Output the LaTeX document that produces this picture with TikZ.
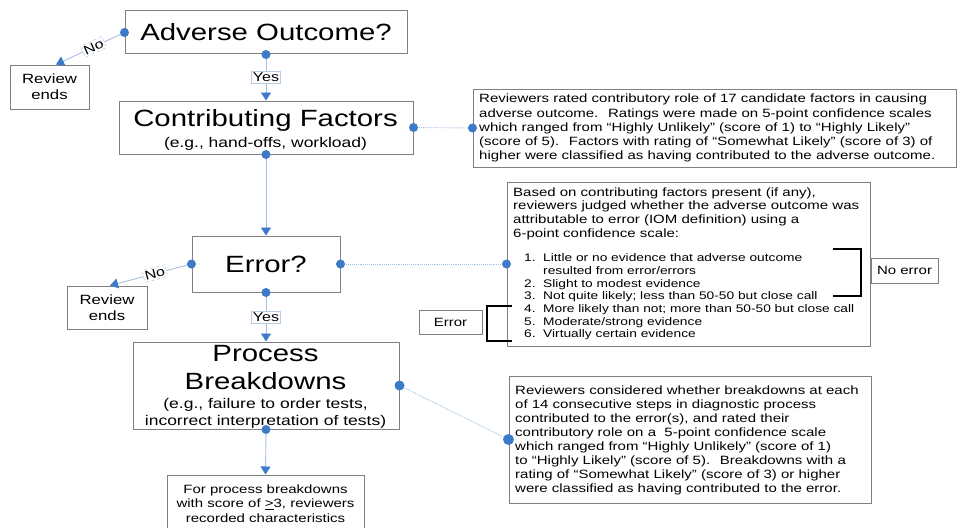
\documentclass[tikz,border=0pt]{standalone}
\usepackage{fontspec}
\setmainfont{Liberation Sans}[FakeStretch=1.25]
\usetikzlibrary{arrows.meta}
\definecolor{linkblue}{HTML}{A6C0E3}
\definecolor{dotblue}{HTML}{3D7AC8}
\definecolor{boxgray}{HTML}{808080}
\definecolor{tagline}{HTML}{B8CCE6}
\newcommand\fsz[2]{\fontsize{#1}{#2}\selectfont}

\begin{document}
\begin{tikzpicture}[x=1pt,y=-1pt,
  box/.style={draw=boxgray, line width=1pt, fill=white, inner sep=0pt},
  title/.style={anchor=base, inner sep=0pt, font=\fsz{23.5}{28}},
  sub/.style={anchor=base, inner sep=0pt, font=\fsz{14}{16}},
  para/.style={anchor=north west, inner sep=0pt, align=left, font=\fsz{12}{14.3}},
  flow/.style={draw=linkblue, line width=0.9pt, -{Triangle[width=10pt,length=8pt,color=dotblue]}},
  link/.style={draw=linkblue, line width=0.9pt, densely dotted},
  dot/.style={fill=dotblue},
  tag/.style={fill=white, draw=tagline, line width=0.6pt, inner sep=1.5pt, font=\fsz{12.8}{14}},
  notag/.style={tag, dashed, sloped},
  bracket/.style={draw=black, line width=2.6pt},
]
\fill[white] (0,0) rectangle (957,527);
\useasboundingbox (0,0) rectangle (957,527);
\clip (0,0) rectangle (957,527);

% ---------- main flow boxes ----------
\node[box, minimum width=282, minimum height=43, font=\fsz{23.5}{28}] (adverse) at (266,32.5) {Adverse Outcome?};
\node[box, minimum width=79, minimum height=44, align=center, font=\fsz{13.4}{16}] (rev1) at (49.5,87) {Review\\ends};

\node[box, minimum width=294, minimum height=53] (contrib) at (266,127.5) {};
\node[title] (contribT) at (265.5,126) {Contributing Factors};
\node[sub] (contribS) at (265.5,147) {(e.g., hand-offs, workload)};

\node[box, minimum width=148, minimum height=56, font=\fsz{23.5}{28}] (error) at (266,264) {Error?};
\node[box, minimum width=80, minimum height=43, align=center, font=\fsz{13.4}{16}] (rev2) at (107,307.5) {Review\\ends};

\node[box, minimum width=266, minimum height=87] (process) at (266,385.5) {};
\node[title] (processT1) at (265.5,361.7) {Process};
\node[title] (processT2) at (265.5,389) {Breakdowns};
\node[sub] (processS1) at (265.5,408.7) {(e.g., failure to order tests,};
\node[sub] (processS2) at (265.5,425) {incorrect interpretation of tests)};

\node[box, minimum width=197, minimum height=70] (record) at (265.5,510) {};
\node[anchor=north, inner sep=0pt, align=center, font=\fsz{12}{14.5}] (recordT) at (265.5,484.5)
  {For process breakdowns\\with score of \underline{>}3, reviewers\\recorded characteristics};

% ---------- explanatory boxes ----------
\node[box, minimum width=483, minimum height=78] (factors) at (714.5,128) {};
\node[para] (factorsT) at (479,93.9)
  {Reviewers rated contributory role of 17 candidate factors in causing\\
   adverse outcome.~ Ratings were made on 5-point confidence scales\\
   which ranged from “Highly Unlikely” (score of 1) to “Highly Likely”\\
   (score of 5).~ Factors with rating of “Somewhat Likely” (score of 3) of\\
   higher were classified as having contributed to the adverse outcome.};

\node[box, minimum width=363, minimum height=164] (scale) at (688.5,264) {};
\node[para, font=\fsz{12}{13.8}] (scaleT) at (513,187.2)
  {Based on contributing factors present (if any),\\
   reviewers judged whether the adverse outcome was\\
   attributable to error (IOM definition) using a\\
   6-point confidence scale:};
\node[para, font=\fsz{11}{12.67}] (scaleL) at (524,253.7)
  {\makebox[19pt][l]{1.}Little or no evidence that adverse outcome\\
   \hspace*{19pt}resulted from error/errors\\
   \makebox[19pt][l]{2.}Slight to modest evidence\\
   \makebox[19pt][l]{3.}Not quite likely; less than 50-50 but close call\\
   \makebox[19pt][l]{4.}More likely than not; more than 50-50 but close call\\
   \makebox[19pt][l]{5.}Moderate/strong evidence\\
   \makebox[19pt][l]{6.}Virtually certain evidence};

\node[box, minimum width=67, minimum height=25, font=\fsz{12}{14}] (noerr) at (904.5,270.5) {No error};
\node[box, minimum width=63, minimum height=24, font=\fsz{12}{14}] (errtag) at (450.5,322) {Error};
\draw[bracket] (833,249) -- (861,249) -- (861,296) -- (833,296);
\draw[bracket] (512,306) -- (487,306) -- (487,341) -- (512,341);

\node[box, minimum width=362, minimum height=127] (steps) at (690,439.5) {};
\node[para, font=\fsz{12}{14}] (stepsT) at (515,385.5)
  {Reviewers considered whether breakdowns at each\\
   of 14 consecutive steps in diagnostic process\\
   contributed to the error(s), and rated their\\
   contributory role on a~ 5-point confidence scale\\
   which ranged from “Highly Unlikely” (score of 1)\\
   to “Highly Likely” (score of 5).~ Breakdowns with a\\
   rating of “Somewhat Likely” (score of 3) or higher\\
   were classified as having contributed to the error.};

% ---------- connectors ----------
\draw[flow] (adverse.south) -- node[tag] (yes1) {Yes} (contrib.north);
\draw[flow] (contrib.south) -- (error.north);
\draw[flow] (error.south) -- node[tag] (yes2) {Yes} (process.north);
\draw[flow] (process.south) -- (record.north);
\draw[flow] (adverse.west) -- node[notag, pos=0.45] (no1) {No} ([xshift=6.5pt]rev1.north);
\draw[flow] (error.west) -- node[notag, pos=0.45] (no2) {No} ([xshift=3pt]rev2.north);
\draw[link] (contrib.east) -- (factors.west);
\draw[link] (error.east) -- (scale.west);
\draw[link] (process.east) -- (steps.west);

% ---------- connection dots ----------
\foreach \p in {adverse.south, adverse.west, contrib.south, contrib.east,
                error.west, error.east, error.south, process.south,
                factors.west, scale.west}
  \fill[dot] (\p) circle (4.5pt);
\fill[dot] (process.east) circle (5pt);
\fill[dot] (steps.west) circle (5.5pt);
\end{tikzpicture}
\end{document}
